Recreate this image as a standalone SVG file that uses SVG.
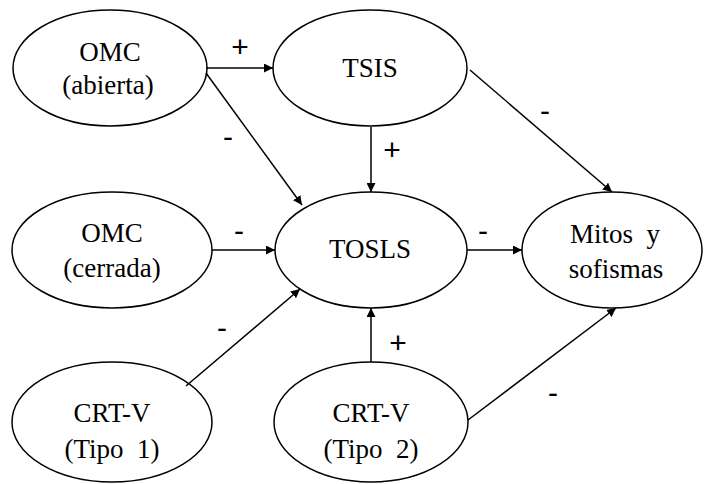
<svg xmlns="http://www.w3.org/2000/svg" width="704" height="484" viewBox="0 0 704 484">
<style>
.n{fill:#fff;stroke:#000;stroke-width:1.5}
.c{stroke:#000;stroke-width:1.5;fill:none;marker-end:url(#a)}
.t{font-family:"Times New Roman","Liberation Serif",Times,serif;font-size:27px;text-anchor:middle;fill:#000}
.l{font-family:Arial,"Liberation Sans",sans-serif;font-size:30px;text-anchor:middle;fill:#000}
</style>
<defs>
<marker id="a" viewBox="0 0 10 10" refX="10" refY="5" markerWidth="9" markerHeight="9" markerUnits="userSpaceOnUse" orient="auto"><path d="M0,0L10,5L0,10z" fill="#000"/></marker>
</defs>
<rect width="704" height="484" fill="#fff"/>
<g id="omc-abierta"><ellipse class="n" cx="110" cy="68" rx="97" ry="58"/><text class="t" x="110" y="61">OMC</text><text class="t" x="108" y="94">(abierta)</text></g>
<g id="tsis"><ellipse class="n" cx="370" cy="68" rx="97" ry="58"/><text class="t" x="370" y="77">TSIS</text></g>
<g id="omc-cerrada"><ellipse class="n" cx="112" cy="250" rx="100" ry="58"/><text class="t" x="112" y="242">OMC</text><text class="t" x="112" y="277">(cerrada)</text></g>
<g id="tosls"><ellipse class="n" cx="371" cy="250" rx="96" ry="58"/><text class="t" x="370" y="258">TOSLS</text></g>
<g id="mitos"><ellipse class="n" cx="612" cy="250" rx="90" ry="58"/><text class="t" x="615" y="243" xml:space="preserve">Mitos  y</text><text class="t" x="616" y="278">sofismas</text></g>
<g id="crtv1"><ellipse class="n" cx="112" cy="422" rx="100" ry="60"/><text class="t" x="112" y="422">CRT-V</text><text class="t" x="112" y="458" xml:space="preserve">(Tipo  1)</text></g>
<g id="crtv2"><ellipse class="n" cx="371" cy="422" rx="97" ry="60"/><text class="t" x="371" y="422">CRT-V</text><text class="t" x="371" y="458" xml:space="preserve">(Tipo  2)</text></g>
<g id="connectors">
<line class="c" x1="206" y1="68" x2="273" y2="68"/>
<line class="c" x1="206" y1="73" x2="302" y2="205"/>
<line class="c" x1="212" y1="250" x2="275" y2="250"/>
<line class="c" x1="186" y1="386" x2="300" y2="289"/>
<line class="c" x1="371" y1="127" x2="371" y2="192"/>
<line class="c" x1="470" y1="70" x2="612" y2="192"/>
<line class="c" x1="467" y1="250" x2="522" y2="250"/>
<line class="c" x1="371" y1="362" x2="371" y2="308"/>
<line class="c" x1="468" y1="420" x2="616" y2="308"/>
<text class="l" x="240" y="57">+</text>
<text class="l" x="228" y="147">-</text>
<text class="l" x="239" y="241">-</text>
<text class="l" x="222" y="338">-</text>
<text class="l" x="392" y="160">+</text>
<text class="l" x="545" y="121">-</text>
<text class="l" x="483" y="241">-</text>
<text class="l" x="398" y="353">+</text>
<text class="l" x="553" y="403">-</text>
</g>
</svg>
